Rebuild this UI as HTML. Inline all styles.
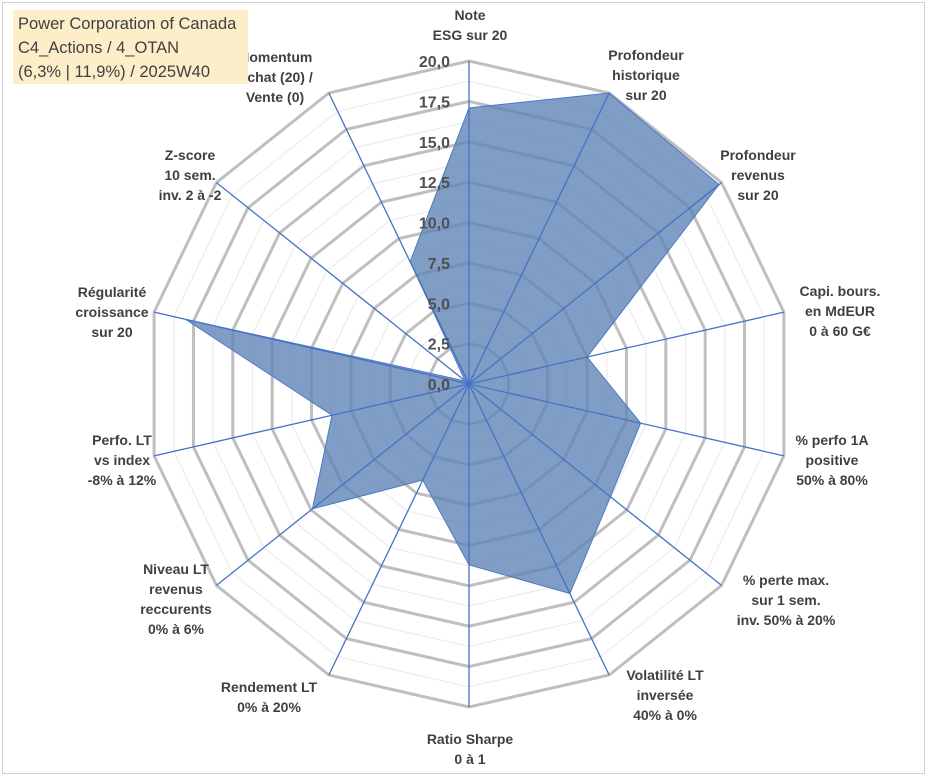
<!DOCTYPE html>
<html><head><meta charset="utf-8">
<style>
body{margin:0;background:#fff;}
#wrap{position:relative;width:933px;height:776px;overflow:hidden;background:#fff;}
#frame{position:absolute;left:2px;top:2px;width:921px;height:770px;border:1px solid #d0d0d0;}
#title{position:absolute;left:13px;top:10px;width:235px;height:74px;background:#fdeeca;font-family:"Liberation Sans",sans-serif;font-size:16.5px;line-height:24px;color:#404040;padding-left:5px;box-sizing:border-box;padding-top:2px;white-space:nowrap;}
svg text{font-family:"Liberation Sans",sans-serif;}
</style></head><body>
<div id="wrap">
<div id="frame"></div>
<svg id="chart" width="933" height="776" style="position:absolute;left:0;top:0"></svg>
<div id="title">Power Corporation of Canada<br>C4_Actions / 4_OTAN<br>(6,3% | 11,9%) / 2025W40</div>
</div>
<script>
const categories=[["Note","ESG sur 20"],["Profondeur","historique","sur 20"],["Profondeur","revenus","sur 20"],["Capi. bours.","en MdEUR","0 à 60 G€"],["% perfo 1A","positive","50% à 80%"],["% perte max.","sur 1 sem.","inv. 50% à 20%"],["Volatilité LT","inversée","40% à 0%"],["Ratio Sharpe","0 à 1"],["Rendement LT","0% à 20%"],["Niveau LT","revenus","reccurents","0% à 6%"],["Perfo. LT","vs index","-8% à 12%"],["Régularité","croissance","sur 20"],["Z-score","10 sem.","inv. 2 à -2"],["Momentum","Achat (20) /","Vente (0)"]];
const values=[17.1,20,19.8,7.5,10.9,11.2,14.4,11.2,6.6,12.4,8.7,18.0,0.3,8.4];
const tickLabels=["0,0","2,5","5,0","7,5","10,0","12,5","15,0","17,5","20,0"];
const maxVal=20;
const labelPos=[[470,20],[646,60],[758,160],[840,296],[832,445],[786,585],[665,680],[470,744],[269,692],[176,574],[122,445],[112,297],[190,160],[275,62]];

const svg=document.getElementById('chart');
const NS='http://www.w3.org/2000/svg';
const cx=469,cy=384,R=323,N=categories.length;
function ang(i){return i*2*Math.PI/N;}
function pt(i,v){const r=v/maxVal*R;return [cx+r*Math.sin(ang(i)),cy-r*Math.cos(ang(i))];}
function mk(tag,attrs){const e=document.createElementNS(NS,tag);for(const k in attrs)e.setAttribute(k,attrs[k]);svg.appendChild(e);return e;}
for(let k=1;k<=16;k++){
  const v=k*1.25;const pts=[];for(let i=0;i<N;i++)pts.push(pt(i,v).join(','));
  const major=k%2===0;
  const e=mk('polygon',{points:pts.join(' '),fill:'none',stroke:major?'#bfbfbf':'#ececec','stroke-width':major?3:1.2});
  
  
}
const sp=values.map((v,i)=>pt(i,v).join(','));
const poly=mk('polygon',{points:sp.join(' '),fill:'rgb(96,133,184)','fill-opacity':0.8,stroke:'#4a7bc4','stroke-width':1});


for(let i=0;i<N;i++){
  const p=pt(i,maxVal);
  const e=mk('line',{x1:cx,y1:cy,x2:p[0],y2:p[1],stroke:'#4472c4','stroke-width':1.3});
  
  
}
tickLabels.forEach((t,k)=>{
  const y=cy-(k*2.5)/maxVal*R;
  const e=mk('text',{x:cx-19,y:y+6,'text-anchor':'end','font-size':16,'font-weight':'bold',fill:'#505050'});
  e.textContent=t;
  
  
});
categories.forEach((lines,i)=>{
  const [x,y]=labelPos[i];
  const e=mk('text',{x:x,y:y,'text-anchor':'middle','font-size':14,'font-weight':'bold',fill:'#404040'});
  lines.forEach((l,j)=>{const s=document.createElementNS(NS,'tspan');s.setAttribute('x',x);s.setAttribute('dy',j===0?0:20);s.textContent=l;e.appendChild(s);});
  
  
});
</script>
</body></html>
